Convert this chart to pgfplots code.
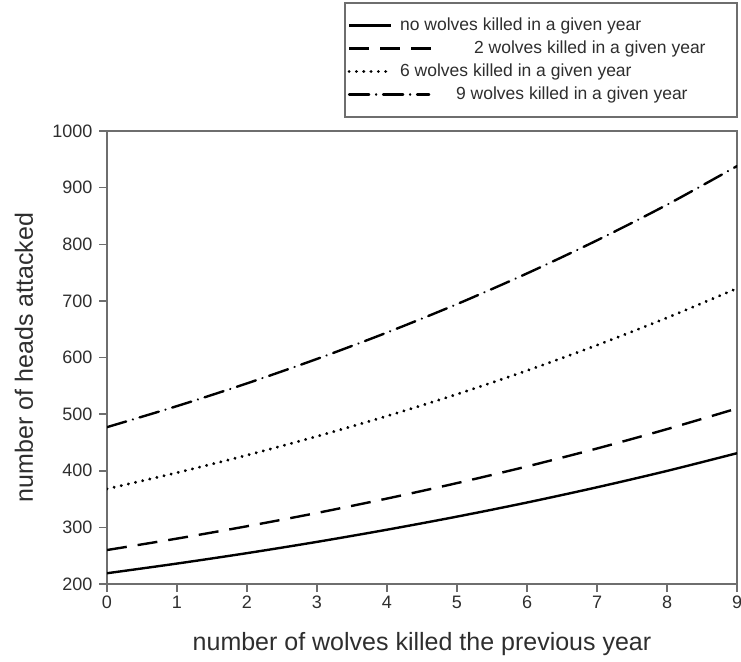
\documentclass[border=0pt]{standalone}
\usepackage{fontspec}
\setmainfont{Liberation Sans}
\usepackage{pgfplots}
\pgfplotsset{compat=1.18}
\definecolor{axgray}{HTML}{6E6E6E}
\definecolor{txt}{HTML}{2E2E2E}
\pgfplotsset{
  limg/.style={legend image code/.code={\path[draw=none,fill=none] (0pt,-4pt) rectangle (52pt,4pt); \draw[##1,overlay] (1pt,0pt) -- (#1,0pt);}},
}
\begin{document}
\begin{tikzpicture}[x=1pt,y=1pt]
\useasboundingbox (0,0) rectangle (741,661);
\begin{axis}[
  at={(107pt,77pt)}, anchor=south west,
  scale only axis, width=630pt, height=453pt,
  xmin=0, xmax=9, ymin=200, ymax=1000,
  xtick={0,1,...,9}, ytick={200,300,...,1000},
  tick pos=left, tick align=outside, major tick length=8pt,
  axis line style={axgray, line width=1.8pt},
  every tick/.style={axgray, line width=1.5pt},
  tick label style={font=\fontsize{18}{20}\selectfont, text=txt},
  xticklabel style={text height=13pt, text depth=0pt},
  yticklabel style={xshift=-3pt},
  /pgf/number format/assume math mode=true,
  /pgf/number format/1000 sep={},
  xlabel={number of wolves killed the previous year},
  ylabel={number of heads attacked},
  every axis x label/.style={at={(axis description cs:0.5,-0.1457)}, anchor=base, font=\fontsize{25}{28}\selectfont, text=txt},
  every axis y label/.style={at={(axis description cs:-0.1175,0.5)}, rotate=90, anchor=base, font=\fontsize{25}{28}\selectfont, text=txt},
  legend style={at={(axis description cs:1.0016,1.0287)}, anchor=south east,
    draw=axgray, line width=1.8pt, font=\fontsize{17.5}{20}\selectfont, text=txt,
    inner xsep=3pt, inner ysep=14pt, row sep=6pt,
    nodes={inner xsep=0pt, inner ysep=0pt, text height=13pt, text depth=4pt, text=txt}},
  legend cell align=left,
]
\addplot[black, line width=2.4pt, smooth, limg=43pt]
  coordinates {(0,219) (1,236.1) (2,254.5) (3,274.4) (4,295.9) (5,319.0) (6,343.9) (7,370.8) (8,399.7) (9,431)};
\addlegendentry{\makebox[334pt][l]{no wolves killed in a given year}}
\addplot[black, line width=2.4pt, smooth, dash pattern=on 20pt off 11pt, limg=91pt]
  coordinates {(0,260) (1,280.2) (2,302.0) (3,325.5) (4,350.9) (5,378.2) (6,407.6) (7,439.3) (8,473.5) (9,510)};
\addlegendentry{\makebox[334pt][l]{\hspace*{74pt}2 wolves killed in a given year}}
\addplot[black, line width=3.2pt, smooth, line cap=round, dash pattern=on 0.01pt off 7.3pt, limg=43pt]
  coordinates {(0,368) (1,396.6) (2,427.5) (3,460.8) (4,496.6) (5,535.2) (6,576.9) (7,621.8) (8,670.2) (9,722)};
\addlegendentry{\makebox[334pt][l]{6 wolves killed in a given year}}
\addplot[black, line width=2.4pt, smooth, line cap=round, dash pattern=on 20pt off 7pt on 0.01pt off 7pt, limg=81pt]
  coordinates {(0,477) (1,514.2) (2,554.3) (3,597.5) (4,644.1) (5,694.3) (6,748.5) (7,806.9) (8,869.8) (9,938)};
\addlegendentry{\makebox[334pt][l]{\hspace*{56pt}9 wolves killed in a given year}}
\end{axis}
\end{tikzpicture}
\end{document}
